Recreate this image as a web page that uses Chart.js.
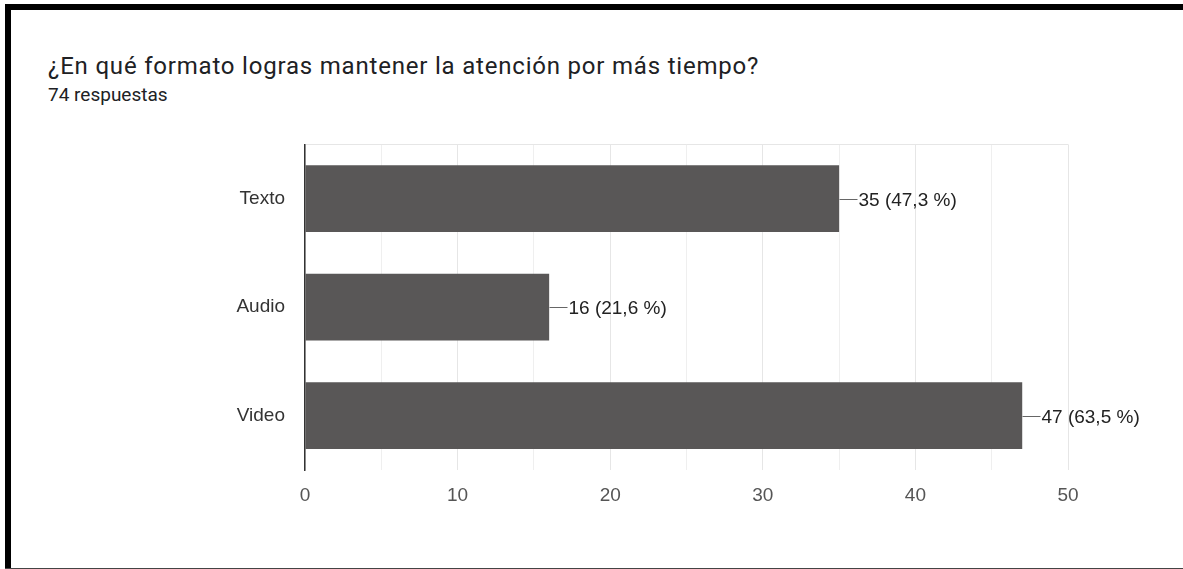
<!DOCTYPE html>
<html>
<head>
  <title>Formato de atención</title>
  <script src="https://cdn.jsdelivr.net/npm/chart.js"></script>
  <style>
    html, body { margin: 0; padding: 0; background: #fff; }
    body { width: 1183px; height: 569px; position: relative; overflow: hidden; }
    #frameTop { position: absolute; left: 5px; top: 4px; width: 1178px; height: 6px; background: #000; }
    #frameLeft { position: absolute; left: 5px; top: 4px; width: 6px; height: 565px; background: #000; }
    #frameBottom { position: absolute; left: 5px; top: 568px; width: 1178px; height: 1px; background: #444; }
    #title { position: absolute; left: 48px; top: 52px; font: 24px Roboto, sans-serif; letter-spacing: 0.8px; line-height: 28px; color: #202124; white-space: nowrap; }
    #subtitle { position: absolute; left: 48px; top: 84px; font: 19px Roboto, sans-serif; line-height: 22px; color: #202124; white-space: nowrap; }
    #chartBox { position: absolute; left: 0; top: 113px; width: 1183px; height: 437px; }
  </style>
</head>
<body>
  <div id="frameTop"></div>
  <div id="frameLeft"></div>
  <div id="frameBottom"></div>
  <div id="title">¿En qué formato logras mantener la atención por más tiempo?</div>
  <div id="subtitle">74 respuestas</div>
  <div id="chartBox"><canvas id="chartCanvas"></canvas></div>

<script>
  const categories = ["Texto", "Audio", "Video"];
  const counts = [35, 16, 47];
  const percents = ["47,3 %", "21,6 %", "63,5 %"];

  // leader line + "n (p %)" after each bar
  const barLabels = {
    id: "barLabels",
    afterDatasetsDraw(chart) {
      const ctx = chart.ctx;
      const meta = chart.getDatasetMeta(0);
      ctx.save();
      ctx.font = "19px 'Liberation Sans', Arial, sans-serif";
      ctx.textBaseline = "middle";
      meta.data.forEach((bar, i) => {
        const x = Math.round(bar.x) + 0.5;
        const y = Math.round(bar.y) + 0.5;
        ctx.strokeStyle = "#666";
        ctx.lineWidth = 1;
        ctx.beginPath();
        ctx.moveTo(x, y);
        ctx.lineTo(x + 18, y);
        ctx.stroke();
        ctx.fillStyle = "#222";
        ctx.fillText(`${counts[i]} (${percents[i]})`, x + 19, y + 1);
      });
      ctx.restore();
    }
  };

  const ctx = document.getElementById("chartCanvas").getContext("2d");
  new Chart(ctx, {
    type: "bar",
    data: {
      labels: categories,
      datasets: [{
        data: counts,
        backgroundColor: "#595757",
        borderWidth: 0,
        categoryPercentage: 1,
        barPercentage: 0.615
      }]
    },
    options: {
      indexAxis: "y",
      responsive: true,
      maintainAspectRatio: false,
      animation: false,
      layout: { padding: { top: 0, right: 115, left: 0, bottom: 0 } },
      plugins: {
        legend: { display: false },
        tooltip: { enabled: false }
      },
      scales: {
        x: {
          min: 0,
          max: 50,
          ticks: {
            stepSize: 5,
            padding: 14,
            color: "#555",
            font: { family: "'Liberation Sans', Arial, sans-serif", size: 19 },
            callback: v => (v % 10 === 0 ? v : "")
          },
          grid: {
            drawTicks: false,
            color: c => (c.tick && c.tick.value % 10 === 0 ? "#e6e6e6" : "#efefef"),
            lineWidth: 1
          },
          border: { display: false },
          afterFit: s => { s.height = 80; }
        },
        y: {
          ticks: {
            padding: 20,
            color: "#333",
            font: { family: "'Liberation Sans', Arial, sans-serif", size: 19 }
          },
          grid: {
            offset: true,
            drawTicks: false,
            color: c => (c.index === 0 || c.index === categories.length ? "#e6e6e6" : "rgba(0,0,0,0)")
          },
          border: { display: true, color: "#333", width: 1.5 },
          afterFit: s => { s.width = 305; }
        }
      }
    },
    plugins: [barLabels]
  });
</script>
</body>
</html>
